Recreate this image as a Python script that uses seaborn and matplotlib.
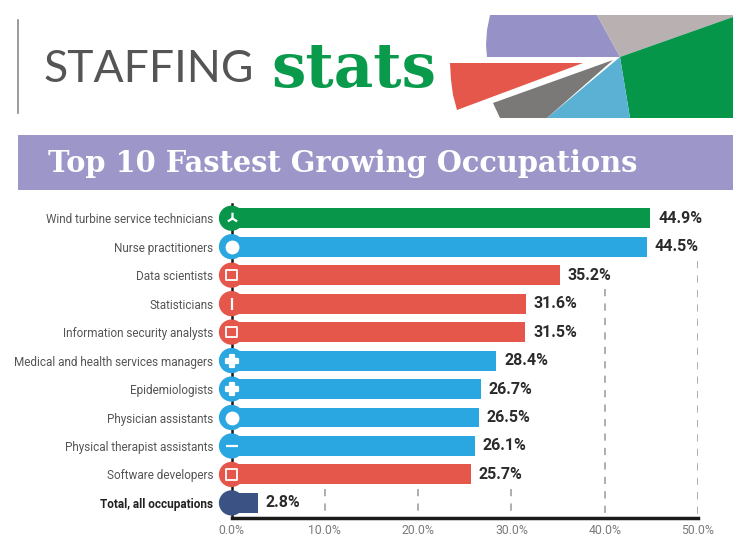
import matplotlib
matplotlib.use("Agg")
import matplotlib.pyplot as plt
from matplotlib.patches import Polygon, Rectangle
import pandas as pd
import seaborn as sns

# data
occupations = [
    "Wind turbine service technicians",
    "Nurse practitioners",
    "Data scientists",
    "Statisticians",
    "Information security analysts",
    "Medical and health services managers",
    "Epidemiologists",
    "Physician assistants",
    "Physical therapist assistants",
    "Software developers",
    "Total, all occupations",
]
growth_pct = [44.9, 44.5, 35.2, 31.6, 31.5, 28.4, 26.7, 26.5, 26.1, 25.7, 2.8]
sector = ["energy", "health", "tech", "tech", "tech", "health",
          "health", "health", "health", "tech", "total"]
x_ticks = [0, 10, 20, 30, 40, 50]
tick_labels = ["0.0%", "10.0%", "20.0%", "30.0%", "40.0%", "50.0%"]

palette = {"energy": "#07964a", "health": "#2aa7e1", "tech": "#e5574a", "total": "#3b5384"}
icon_markers = ["2", "o", "s", "|", "s", "P", "P", "o", "_", "s", None]

NARROW = ["Roboto", "DejaVu Sans"]

df = pd.DataFrame({"occupation": occupations, "growth": growth_pct, "sector": sector})

fig = plt.figure(figsize=(7.51, 5.44), dpi=100)

# header drawn in pixel coordinates
hdr = fig.add_axes([0, 0, 1, 1], zorder=0)
hdr.set_xlim(0, 751)
hdr.set_ylim(544, 0)
hdr.axis("off")

hdr.plot([18, 18], [20, 113], color="#8a8a8a", lw=1.2)
hdr.text(43, 70, "STAFFING", fontsize=32, color="#555555", family=["Lato", "DejaVu Sans"],
         va="center", ha="left")
hdr.text(271, 87, "stats", fontsize=44, color="#0a9a4b", family="DejaVu Serif",
         fontweight="heavy", va="baseline", ha="left")

shapes = [
    ([(490, 15), (597, 15), (620, 57), (487, 57), (486, 45), (487, 30)], "#9692c7"),
    ([(597, 15), (733, 15), (733, 17), (620, 57)], "#b9b1b1"),
    ([(620, 57), (733, 17), (733, 118), (630, 118)], "#06964a"),
    ([(620, 57), (630, 118), (547, 118)], "#5bb1d3"),
    ([(613, 60), (547, 118), (500, 118), (493, 103)], "#7b7878"),
    ([(450, 63), (583, 63), (457, 110), (453, 95), (451, 80)], "#e5574a"),
]
for pts, col in shapes:
    hdr.add_patch(Polygon(pts, closed=True, facecolor=col, edgecolor="none"))

hdr.add_patch(Rectangle((18, 135), 715, 55, facecolor="#9c96c9", edgecolor="none"))
hdr.text(48, 163, "Top 10 Fastest Growing Occupations", fontsize=20.8, color="white",
         family="DejaVu Serif", fontweight="bold", va="center", ha="left")

# bar chart
ax = fig.add_axes([231.5 / 751, 1 - 518 / 544, (698 - 231.5) / 751, (518 - 204) / 544], zorder=2)
ax.set_facecolor("none")
sns.barplot(data=df, x="growth", y="occupation", hue="sector", palette=palette,
            dodge=False, legend=False, width=0.7, saturation=1, orient="h", ax=ax, zorder=3)

ax.set_xlim(0, 50)
ax.set_ylim(len(occupations) - 1 + 0.53, -0.5)
ax.set_xlabel("")
ax.set_ylabel("")

for s in ["top", "right"]:
    ax.spines[s].set_visible(False)
ax.spines["bottom"].set_linewidth(2.5)
ax.spines["left"].set_linewidth(1.8)
ax.spines["bottom"].set_color("#1a1a1a")
ax.spines["left"].set_color("#1a1a1a")
ax.spines["bottom"].set_zorder(4)

ax.set_xticks(x_ticks)
ax.set_xticklabels(tick_labels, family=NARROW, fontsize=8.8, color="#7a7a7a")
ax.tick_params(axis="x", length=0, pad=4)
ax.tick_params(axis="y", length=0, pad=13)
for i, lab in enumerate(ax.get_yticklabels()):
    lab.set_family(NARROW)
    lab.set_fontsize(8.5)
    if i == len(occupations) - 1:
        lab.set_color("#222222")
        lab.set_fontweight("bold")
    else:
        lab.set_color("#555555")

# dashed gridlines only below the lowest bar + label that reaches them
label_reach = 5.5
for g in x_ticks[1:]:
    hit = [i for i, v in enumerate(growth_pct) if v + label_reach >= g]
    top = (max(hit) + 0.5) if hit else -0.5
    ax.vlines(g, top, len(occupations) - 1 + 0.53, colors="#a8a8a8", lw=1.3,
              linestyles=(0, (4, 4)), zorder=1)

# value labels
for i, v in enumerate(growth_pct):
    ax.annotate(f"{v:.1f}%", (v, i), xytext=(5.5, 0), textcoords="offset points",
                va="center", ha="left", fontsize=11.5, fontweight="bold",
                color="#2b2b2b", family=["Roboto", "DejaVu Sans"])

# round icon badges at the axis
for i, occ in enumerate(occupations):
    ax.scatter(0, i, s=330, color=palette[sector[i]], zorder=5, clip_on=False,
               edgecolors="none")
    m = icon_markers[i]
    if m is None:
        continue
    if m == "s":
        ax.scatter(0, i, s=55, marker=m, facecolors="none", edgecolors="white",
                   linewidths=1.3, zorder=6, clip_on=False)
    else:
        ax.scatter(0, i, s=70, marker=m, color="white", linewidths=1.6,
                   zorder=6, clip_on=False)

fig.savefig("out.png", dpi=100)
